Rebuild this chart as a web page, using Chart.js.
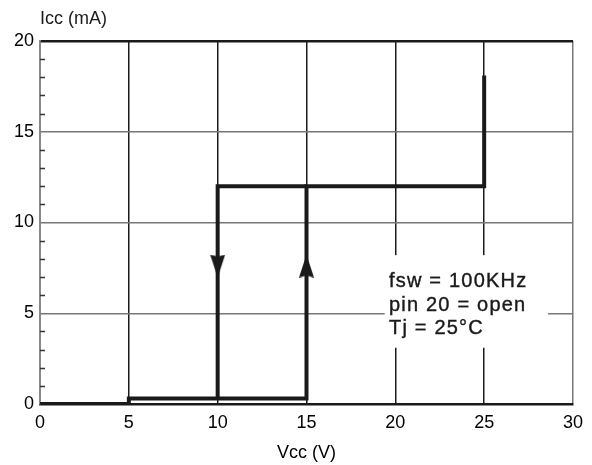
<!DOCTYPE html>
<html>
<head>
<meta charset="utf-8">
<script src="https://cdn.jsdelivr.net/npm/chart.js@4.4.1/dist/chart.umd.min.js"></script>
<style>
  body { margin: 0; background: #fff; }
</style>
</head>
<body>
<canvas id="chart" width="592" height="465"></canvas>
<script>
// rising path (Vcc going up)
const upVcc = [0, 5, 5, 15, 15, 25, 25];
const upIcc = [0, 0, 0.3, 0.3, 12, 12, 18.1];
// falling path (Vcc going down)
const downVcc = [15, 10, 10];
const downIcc = [12, 12, 0.3];
// arrow markers
const arrowVcc = [10, 15];
const arrowIcc = [7.6, 7.6];
const xTicks = [0, 5, 10, 15, 20, 25, 30];
const yTicks = [0, 5, 10, 15, 20];
const noteLines = ['fsw = 100KHz', 'pin 20 = open', 'Tj = 25\u00B0C'];

const ink = '#1a1a1a';
const font = 'Liberation Sans, Arial, Helvetica, sans-serif';

function makeArrow(up) {
    const c = document.createElement('canvas');
    c.width = 15;
    c.height = 23;
    const g = c.getContext('2d');
    g.fillStyle = ink;
    g.beginPath();
    if (up) {
        g.moveTo(7.5, 0); g.lineTo(15, 23); g.lineTo(7.5, 21); g.lineTo(0, 23);
    } else {
        g.moveTo(7.5, 23); g.lineTo(15, 0); g.lineTo(7.5, 2); g.lineTo(0, 0);
    }
    g.closePath();
    g.fill();
    return c;
}

const pts = (xs, ys) => xs.map((x, i) => ({ x: x, y: ys[i] }));

// minor ticks, note box and y title
const extras = {
    id: 'extras',
    beforeDatasetsDraw(chart) {
        const c = chart.ctx;
        const x = chart.scales.x, y = chart.scales.y;
        c.save();
        c.strokeStyle = '#333';
        c.lineWidth = 1.5;
        for (let v = 1; v < 20; v++) {
            if (v % 5 === 0) continue;
            const py = Math.round(y.getPixelForValue(v)) + 0.5;
            c.beginPath();
            c.moveTo(x.left, py);
            c.lineTo(x.left + 5, py);
            c.stroke();
        }
        // white box for the note
        const bx = x.getPixelForValue(19.4), bx2 = x.getPixelForValue(28.6);
        const by = y.getPixelForValue(8.2), by2 = y.getPixelForValue(3.1);
        c.fillStyle = '#fff';
        c.fillRect(bx, by, bx2 - bx, by2 - by);
        c.fillStyle = ink;
        c.strokeStyle = ink;
        c.lineWidth = 0.4;
        c.font = '20px ' + font;
        c.letterSpacing = '1.2px';
        c.textBaseline = 'alphabetic';
        const base = [287, 311, 334];
        noteLines.forEach((t, i) => { c.fillText(t, 389, base[i]); c.strokeText(t, 389, base[i]); });
        c.letterSpacing = '0px';
        c.font = '18px ' + font;
        c.textBaseline = 'middle';
        c.fillText('Icc (mA)', 40, 19);
        c.restore();
    }
};

new Chart(document.getElementById('chart'), {
    type: 'scatter',
    data: {
        datasets: [
            { data: pts(upVcc, upIcc), showLine: true, borderColor: ink, borderWidth: 4, pointRadius: 0 },
            { data: pts(downVcc, downIcc), showLine: true, borderColor: ink, borderWidth: 4, pointRadius: 0 },
            {
                data: pts(arrowVcc, arrowIcc), showLine: false,
                pointStyle: [makeArrow(false), makeArrow(true)]
            }
        ]
    },
    options: {
        responsive: false,
        animation: false,
        layout: { padding: { top: 41, right: 19, left: 0, bottom: 0 } },
        plugins: { legend: { display: false }, tooltip: { enabled: false } },
        scales: {
            x: {
                type: 'linear', min: 0, max: 30,
                afterFit: s => { s.height = 61; },
                afterBuildTicks: s => { s.ticks = xTicks.map(v => ({ value: v })); },
                ticks: { color: '#000', padding: 8, font: { family: font, size: 18 } },
                grid: {
                    drawTicks: false,
                    color: c => c.tick && c.tick.value === 30 ? '#777' : ink,
                    lineWidth: 1.5
                },
                border: { color: ink, width: 2.5 },
                title: { display: true, text: 'Vcc (V)', color: '#000', font: { family: font, size: 18 }, padding: { top: 0, bottom: 1 } }
            },
            y: {
                type: 'linear', min: 0, max: 20,
                afterFit: s => { s.width = 40; },
                afterBuildTicks: s => { s.ticks = yTicks.map(v => ({ value: v })); },
                ticks: { color: '#000', padding: 6, font: { family: font, size: 18 } },
                grid: {
                    drawTicks: false,
                    color: c => c.tick && c.tick.value === 20 ? ink : '#777',
                    lineWidth: c => c.tick && c.tick.value === 20 ? 2.5 : 1.5
                },
                border: { color: '#888', width: 1.5 }
            }
        }
    },
    plugins: [extras]
});
</script>
</body>
</html>
